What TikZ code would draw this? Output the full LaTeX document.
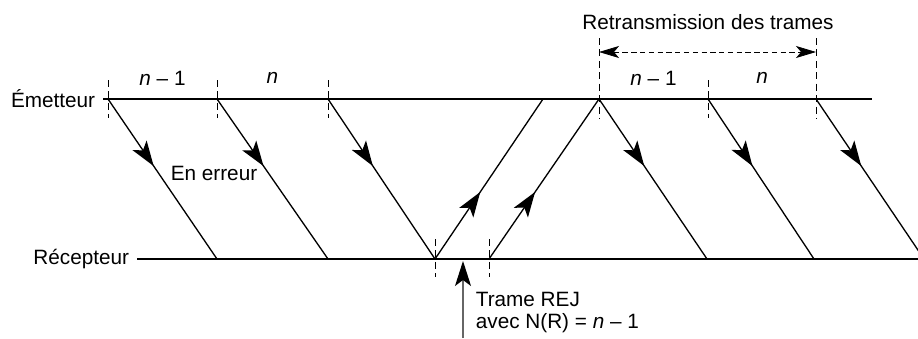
\documentclass[tikz,border=0pt]{standalone}
\usepackage{fontspec}
\setmainfont{Liberation Sans}
\usetikzlibrary{arrows.meta, positioning, calc, decorations.markings}

\begin{document}
\begin{tikzpicture}[
    x=0.02cm, y=-0.02cm,
    lab/.style={inner xsep=0.15cm, inner ysep=0pt, font=\fontsize{11.8}{12.5}\selectfont},
    ligne/.style={line width=1pt},
    trame/.style={line width=0.75pt, postaction={decorate},
        decoration={markings, mark=at position 0.42 with {\arrow{Stealth[length=0.5cm, width=0.34cm, inset=0.12cm]}}}},
    repere/.style={line width=0.45pt, dash pattern=on 4pt off 2.5pt},
    >=Stealth
]
\useasboundingbox (0,0) rectangle (918,338);

% points sur les deux lignes
\coordinate (e1) at (108,99);
\coordinate (e2) at (217,99);
\coordinate (e3) at (328,99);
\coordinate (e4) at (543,99);
\coordinate (e5) at (599,99);
\coordinate (e6) at (708,99);
\coordinate (e7) at (816,99);
\coordinate (efin) at (872,99);
\coordinate (r1) at (217,259);
\coordinate (r2) at (328,259);
\coordinate (r3) at (435,259);
\coordinate (r4) at (489,259);
\coordinate (r5) at (707,259);
\coordinate (r6) at (814,259);
\coordinate (r7) at (924,259);
\coordinate (rfin) at (918,259);

\node[lab, anchor=east] (em) at (103,99) {Émetteur};
\node[lab, anchor=east] (rec) at (137,259) {Récepteur};
\draw[ligne] (em.east) -- (efin);
\draw[ligne] (rec.east) -- (rfin);

% reperes
\foreach \p in {e1,e2,e3,e6}
    \draw[repere] ($(\p)+(0,-19)$) -- ($(\p)+(0,19)$);
\foreach \p in {e5,e7}
    \draw[repere] ($(\p)+(0,-61)$) -- ($(\p)+(0,19)$);
\foreach \p in {r3,r4}
    \draw[repere] ($(\p)+(0,-20)$) -- ($(\p)+(0,18)$);

% trames
\draw[trame] (e1) -- (r1);
\draw[trame] (e2) -- (r2);
\draw[trame] (e3) -- (r3);
\draw[trame] (r3) -- (e4);
\draw[trame] (r4) -- (e5);
\draw[trame] (e5) -- (r5);
\draw[trame] (e6) -- (r6);
\draw[trame] (e7) -- (r7);

\node[lab] (t1) at ($(e1)!0.5!(e2)+(0,-21)$) {\textit{n} – 1};
\node[lab] (t2) at ($(e2)!0.5!(e3)+(0,-21)$) {\textit{n}};
\node[lab] (t3) at ($(e5)!0.5!(e6)+(0,-21)$) {\textit{n} – 1};
\node[lab] (t4) at ($(e6)!0.5!(e7)+(0,-21)$) {\textit{n}};
\node[lab] (err) at (214,173) {En erreur};

% retransmission
\coordinate (ga) at (599,52);
\coordinate (dr) at (816,52);
\draw[<->, line width=0.45pt, dash pattern=on 3pt off 2pt,
    >={Stealth[length=0.4cm, width=0.24cm, inset=0.1cm]}] (ga) -- (dr);
\node[lab] (retr) at (708,22) {Retransmission des trames};

% trame REJ
\coordinate (rejbas) at (463,338);
\coordinate (rejhaut) at (463,261);
\draw[black!60, line width=0.7pt, -{Stealth[black, length=0.5cm, width=0.32cm, inset=0.12cm]}] (rejbas) -- (rejhaut);
\node[lab, anchor=north west, align=left] (rej) at (468,292) {Trame REJ\\avec N(R) = \textit{n} – 1};
\end{tikzpicture}
\end{document}
